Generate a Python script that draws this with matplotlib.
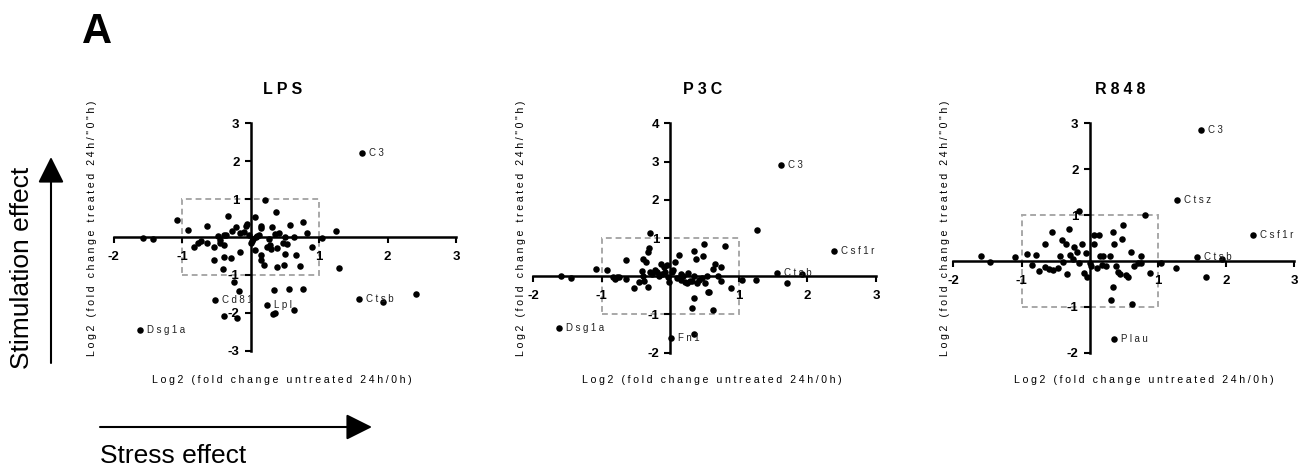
import numpy as np
import matplotlib
matplotlib.use("Agg")
import matplotlib.pyplot as plt
from matplotlib.patches import FancyArrowPatch, Rectangle

plt.rcParams['font.family'] = ['Liberation Sans', 'DejaVu Sans']

# ---- data (labelled genes first, same order as *_names) ----
lps_names = ['C3', 'Ctsb', 'Cd81', 'Lpl', 'Dsg1a']
lps_x = [1.63, 1.58, -0.52, 0.24, -1.61,
         -1.07, -0.91, -1.57, -1.43, -0.64, -0.33, -0.05, 0.06, 0.21, 0.37,
         0.16, 0.16, 0.31, 0.58, 0.77, 0.82, 1.05, 1.25, 1.29, 0.90,
         -0.21, -0.27, -0.36, -0.38, -0.44, -0.45, -0.53, -0.63, -0.72, -0.77,
         -0.82, -0.38, -0.38, -0.29, -0.53, -0.15, -0.40, -0.24, -0.17, -0.39,
         -0.20, -0.15, -0.10, -0.02, 0.02, 0.00, 0.04, 0.08, 0.10, 0.13,
         0.07, 0.15, 0.16, 0.19, 0.24, 0.29, 0.30, 0.38, 0.27, 0.36,
         0.41, 0.50, 0.47, 0.53, 0.63, 0.50, 0.67, 0.72, 0.49, 0.39,
         0.34, 0.56, 0.77, 0.33, 0.36, 0.64, 1.94, 2.41, -0.06, -0.47]
lps_y = [2.22, -1.64, -1.65, -1.79, -2.45,
         0.44, 0.18, -0.03, -0.05, 0.29, 0.55, 0.35, 0.53, 0.97, 0.66,
         0.28, 0.23, 0.26, 0.32, 0.40, 0.10, -0.02, 0.15, -0.82, -0.26,
         0.26, 0.16, 0.06, 0.04, -0.09, -0.15, -0.27, -0.15, -0.11, -0.15,
         -0.26, -0.22, -0.53, -0.55, -0.60, -0.40, -0.84, -1.20, -1.42, -2.08,
         -2.13, 0.11, 0.12, 0.05, -0.10, -0.15, -0.05, 0.00, 0.02, 0.06,
         -0.35, -0.62, -0.48, -0.75, -0.26, -0.22, -0.31, -0.29, -0.04, 0.09,
         0.11, 0.00, -0.16, -0.18, 0.00, -0.44, -0.48, -0.77, -0.75, -0.79,
         -1.41, -1.36, -1.36, -2.04, -2.01, -1.93, -1.71, -1.50, 0.30, 0.02]

p3c_names = ['C3', 'Csf1r', 'Ctsb', 'Dsg1a', 'Fn1']
p3c_x = [1.61, 2.39, 1.56, -1.62, 0.01,
         -1.60, -1.45, -1.08, -0.92, -0.84, -0.81, -0.78, -0.75, -0.65, -0.65,
         -0.53, -0.46, -0.42, -0.40, -0.38, -0.40, -0.35, -0.32, -0.31, -0.32,
         -0.30, -0.30, -0.27, -0.22, -0.20, -0.17, -0.14, -0.10, -0.08, -0.05,
         -0.03, -0.02, 0.02, 0.04, 0.07, 0.13, 0.16, 0.19, 0.21, 0.24,
         0.28, 0.31, 0.35, 0.35, 0.37, 0.35, 0.31, 0.35, 0.47, 0.49,
         0.39, 0.42, 0.46, 0.51, 0.55, 0.57, 0.54, 0.62, 0.65, 0.62,
         0.70, 0.74, 0.74, 0.80, 0.89, 1.04, 1.25, 1.27, 1.70, 1.92,
         0.10, -0.12, 0.25, 0.15]
p3c_y = [2.91, 0.67, 0.08, -1.36, -1.61,
         0.00, -0.05, 0.20, 0.15, -0.03, -0.07, -0.03, -0.03, -0.07, 0.43,
         -0.32, -0.15, 0.14, 0.00, -0.13, 0.45, 0.36, 0.64, 0.74, -0.29,
         1.13, 0.10, 0.05, 0.15, 0.12, 0.00, 0.33, 0.25, 0.12, 0.30,
         -0.02, -0.15, 0.12, 0.15, 0.38, 0.55, 0.07, 0.00, -0.15, -0.18,
         -0.12, -0.12, 0.00, 0.67, 0.44, -0.58, -0.84, -1.52, 0.54, 0.84,
         -0.17, -0.10, -0.05, -0.19, -0.40, -0.40, 0.00, 0.18, 0.32, -0.88,
         0.00, 0.24, -0.13, 0.79, -0.32, -0.11, -0.11, 1.20, -0.19, 0.06,
         -0.05, 0.05, 0.08, -0.10]

r848_names = ['C3', 'Ctsz', 'Csf1r', 'Ctsb', 'Plau']
r848_x = [1.63, 1.28, 2.40, 1.57, 0.35,
          -1.60, -1.46, -1.09, -0.92, -0.84, -0.79, -0.74, -0.65, -0.65, -0.55,
          -0.54, -0.47, -0.43, -0.41, -0.39, -0.35, -0.34, -0.31, -0.29, -0.23,
          -0.19, -0.16, -0.16, -0.11, -0.08, -0.04, -0.06, 0.00, 0.02, 0.06,
          0.06, 0.13, 0.10, 0.15, 0.20, 0.24, 0.30, 0.34, 0.36, 0.34,
          0.31, 0.38, 0.42, 0.44, 0.47, 0.49, 0.53, 0.56, 0.61, 0.62,
          0.65, 0.71, 0.75, 0.75, 0.81, 0.88, 1.05, 1.26, 1.71, 1.94,
          -0.60, -0.25, 0.18]
r848_y = [2.85, 1.33, 0.56, 0.09, -1.71,
          0.11, -0.03, 0.08, 0.15, -0.09, 0.13, -0.21, -0.13, 0.37, 0.64,
          -0.19, -0.15, 0.11, 0.46, -0.02, 0.38, -0.29, 0.69, 0.12, 0.30,
          0.20, 1.09, -0.05, 0.38, -0.26, -0.36, 0.17, -0.05, -0.10, 0.37,
          0.57, 0.56, -0.15, 0.10, 0.10, -0.12, 0.10, 0.62, 0.36, -0.56,
          -0.85, -0.10, -0.25, -0.28, 0.48, 0.79, -0.30, -0.35, 0.20, -0.93,
          -0.11, -0.04, 0.11, -0.04, 1.00, -0.27, -0.04, -0.15, -0.36, 0.04,
          -0.18, 0.05, -0.08]

panels = [
    ('LPS', lps_x, lps_y, lps_names, (-3, 3), [3, 2, 1, -1, -2, -3]),
    ('P3C', p3c_x, p3c_y, p3c_names, (-2, 4), [4, 3, 2, 1, -1, -2]),
    ('R848', r848_x, r848_y, r848_names, (-2, 3), [3, 2, 1, -1, -2]),
]
x_ticks = [-2, -1, 1, 2, 3]

ylab = 'Log2 (fold change treated 24h/"0"h)'
xlab = 'Log2 (fold change untreated 24h/0h)'


def spaced(s, gap='\u2005'):
    return gap.join(s)


W, H = 1309, 472
fig = plt.figure(figsize=(W / 100, H / 100), dpi=100)

# axes rectangles in pixels: x of -2, x of 3, y(px) of top, y(px) of bottom
boxes = [(113.5, 456, 123.3, 350.7), (533.3, 876, 123.3, 352.7), (953.3, 1294.3, 123.3, 352.7)]
ylab_x = [92, 521, 945]
xlab_x = [282, 712, 1144]
title_x = [283, 703, 1120]

for (name, xs, ys, names, ylim, yt), (x0, x1, yt_px, yb_px), lx, xx, tx in zip(
        panels, boxes, ylab_x, xlab_x, title_x):
    ax = fig.add_axes([x0 / W, 1 - yb_px / H, (x1 - x0) / W, (yb_px - yt_px) / H])
    ax.set_xlim(-2, 3)
    ax.set_ylim(*ylim)
    ax.patch.set_alpha(0)
    for s in ['top', 'right']:
        ax.spines[s].set_visible(False)
    for s in ['left', 'bottom']:
        ax.spines[s].set_position(('data', 0))
        ax.spines[s].set_linewidth(1.8)
        ax.spines[s].set_zorder(2)

    ax.add_patch(Rectangle((-1, -1), 2, 2, fill=False, ec='#a8a8a8', lw=1.4,
                           ls=(0, (3, 2)), zorder=1))

    ax.scatter(xs, ys, s=22, color='black', zorder=3, clip_on=False, linewidths=0)
    for i, g in enumerate(names):
        ax.annotate(spaced(g, '\u2005'), (xs[i], ys[i]), xytext=(5, 0),
                    textcoords='offset points', fontsize=7, va='center', ha='left',
                    color='#222222')

    ax.set_xticks(x_ticks)
    ax.set_xticklabels([str(t) for t in x_ticks], fontweight='bold', fontsize=9.5)
    ax.set_yticks(yt)
    ax.set_yticklabels([str(t) for t in yt], fontweight='bold', fontsize=9.5)
    ax.tick_params(axis='x', direction='out', length=4, width=1.5, pad=6)
    ax.tick_params(axis='y', direction='out', length=4, width=1.5, pad=4)

    fig.text(tx / W, 1 - 90 / H, spaced(name), ha='center', va='center',
             fontsize=11.5, fontweight='bold')
    fig.text(lx / W, 1 - 228 / H, spaced(ylab), rotation=90, ha='center',
             va='center', fontsize=7.6)
    fig.text(xx / W, 1 - 380 / H, spaced(xlab), ha='center', va='center',
             fontsize=7.6)

fig.text(82 / W, 1 - 43 / H, 'A', fontsize=30, fontweight='bold', va='baseline')
fig.text(22 / W, 1 - 268 / H, 'Stimulation effect', rotation=90, ha='center',
         va='center', fontsize=19)
fig.text(100 / W, 1 - 463 / H, 'Stress effect', ha='left', va='baseline', fontsize=19)

fig.add_artist(FancyArrowPatch((51 / W, 1 - 363 / H), (51 / W, 1 - 157 / H),
                               transform=fig.transFigure, color='black', lw=1.5,
                               arrowstyle='-|>,head_length=0.8,head_width=0.4',
                               mutation_scale=20, shrinkA=0, shrinkB=0))
fig.add_artist(FancyArrowPatch((100 / W, 1 - 427 / H), (372 / W, 1 - 427 / H),
                               transform=fig.transFigure, color='black', lw=1.5,
                               arrowstyle='-|>,head_length=0.8,head_width=0.4',
                               mutation_scale=20, shrinkA=0, shrinkB=0))

fig.savefig('out.png', dpi=100)
